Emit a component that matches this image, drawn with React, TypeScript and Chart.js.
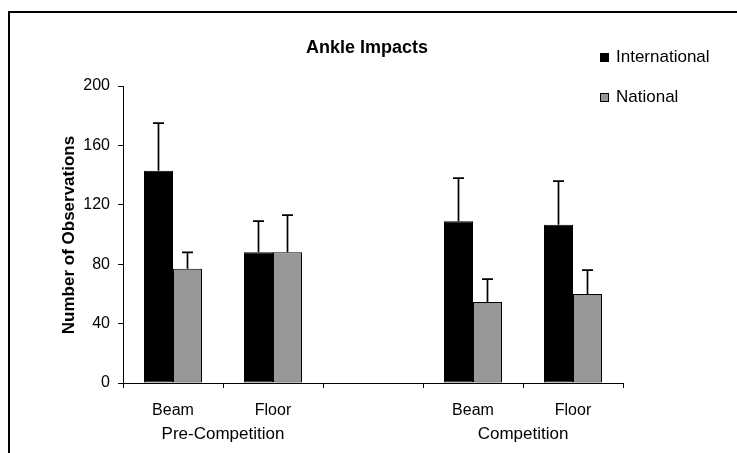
import React, { useEffect, useRef } from 'react';
import { Chart, registerables } from 'chart.js';

Chart.register(...registerables);

const categories = ['Beam', 'Floor', '', 'Beam', 'Floor'];
const phases = ['Pre-Competition', 'Competition'];
const phaseSpans = [[0, 1], [3, 4]];
const seriesNames = ['International', 'National'];
const internationalValues = [143, 88, null, 109, 106.5];
const nationalValues = [77, 88, null, 54.5, 60];
const internationalErrTop = [175, 109, null, 138, 136];
const nationalErrTop = [88, 113, null, 70, 76];
const yTicks = [0, 40, 80, 120, 160, 200];
const chartTitle = 'Ankle Impacts';
const yTitle = 'Number of Observations';

const FONT = "'Liberation Sans', Arial, sans-serif";
const colors = ['#000000', '#979797'];
const errTops = [internationalErrTop, nationalErrTop];

const decorPlugin = {
  id: 'decor',
  afterDatasetsDraw(chart: any) {
    const ctx = chart.ctx;
    const yScale = chart.scales.y;
    ctx.save();
    ctx.strokeStyle = '#000';
    ctx.lineWidth = 1.7;
    chart.data.datasets.forEach((ds: any, di: number) => {
      const meta = chart.getDatasetMeta(di);
      meta.data.forEach((el: any, i: number) => {
        const top = errTops[di][i];
        if (top == null || ds.data[i] == null) return;
        const yt = yScale.getPixelForValue(top);
        ctx.beginPath();
        ctx.moveTo(el.x, el.y);
        ctx.lineTo(el.x, yt);
        ctx.moveTo(el.x - 5.5, yt);
        ctx.lineTo(el.x + 5.5, yt);
        ctx.stroke();
      });
    });
    ctx.restore();
  },
  afterDraw(chart: any) {
    const ctx = chart.ctx;
    const xScale = chart.scales.x;
    ctx.save();
    // frame
    ctx.strokeStyle = '#000';
    ctx.lineWidth = 2;
    ctx.beginPath();
    ctx.moveTo(9, 460);
    ctx.lineTo(9, 12);
    ctx.lineTo(740, 12);
    ctx.stroke();
    // title
    ctx.fillStyle = '#000';
    ctx.font = `bold 18px ${FONT}`;
    ctx.textAlign = 'center';
    ctx.textBaseline = 'middle';
    ctx.fillText(chartTitle, 367, 48);
    // y title
    ctx.save();
    ctx.translate(69, 235);
    ctx.rotate(-Math.PI / 2);
    ctx.font = `bold 17px ${FONT}`;
    ctx.fillText(yTitle, 0, 0);
    ctx.restore();
    // group labels
    ctx.font = `17px ${FONT}`;
    phases.forEach((p, i) => {
      const [a, b] = phaseSpans[i];
      const x = (xScale.getPixelForValue(a) + xScale.getPixelForValue(b)) / 2;
      ctx.fillText(p, x, 434);
    });
    // legend
    ctx.textAlign = 'left';
    seriesNames.forEach((n, i) => {
      const cy = 57 + i * 40;
      ctx.fillStyle = colors[i];
      ctx.fillRect(600, cy - 4, 9, 9);
      ctx.strokeStyle = '#000';
      ctx.lineWidth = 1;
      ctx.strokeRect(600.5, cy - 3.5, 8, 8);
      ctx.fillStyle = '#000';
      ctx.font = `17px ${FONT}`;
      ctx.fillText(n, 616, cy);
    });
    ctx.restore();
  },
};

export default function App() {
  const ref = useRef<HTMLCanvasElement>(null);
  useEffect(() => {
    if (!ref.current) return;
    const chart = new Chart(ref.current, {
      type: 'bar',
      data: {
        labels: categories,
        datasets: [
          {
            label: seriesNames[0],
            data: internationalValues as any,
            backgroundColor: colors[0],
            borderColor: '#000',
            borderWidth: 1,
            borderSkipped: false,
          },
          {
            label: seriesNames[1],
            data: nationalValues as any,
            backgroundColor: colors[1],
            borderColor: '#000',
            borderWidth: 1,
            borderSkipped: false,
          },
        ],
      },
      options: {
        animation: false,
        responsive: false,
        maintainAspectRatio: false,
        datasets: { bar: { categoryPercentage: 0.58, barPercentage: 1 } },
        layout: { padding: { top: 86, right: 114, left: 0, bottom: 0 } },
        plugins: { legend: { display: false }, title: { display: false }, tooltip: { enabled: false } },
        scales: {
          x: {
            offset: true,
            grid: { display: true, offset: true, drawOnChartArea: false, drawTicks: true, tickLength: 5, color: '#000' },
            border: { display: true, color: '#000', width: 1 },
            ticks: { color: '#000', font: { family: FONT, size: 16 }, padding: 13, maxRotation: 0, autoSkip: false },
            afterFit: (s: any) => { s.height = 70; },
          },
          y: {
            min: 0,
            max: 200,
            afterBuildTicks: (s: any) => { s.ticks = yTicks.map((v) => ({ value: v })); },
            grid: { display: true, drawOnChartArea: false, drawTicks: true, tickLength: 5, color: '#000' },
            border: { display: true, color: '#000', width: 1 },
            ticks: { color: '#000', font: { family: FONT, size: 16 }, padding: 8 },
            afterFit: (s: any) => { s.width = 123; },
          },
        },
      },
      plugins: [decorPlugin],
    });
    return () => chart.destroy();
  }, []);
  return (
    <div style={{ position: 'absolute', left: 0, top: 0, width: 737, height: 453, background: '#fff' }}>
      <canvas ref={ref} width={737} height={453} style={{ width: 737, height: 453 }} />
    </div>
  );
}
